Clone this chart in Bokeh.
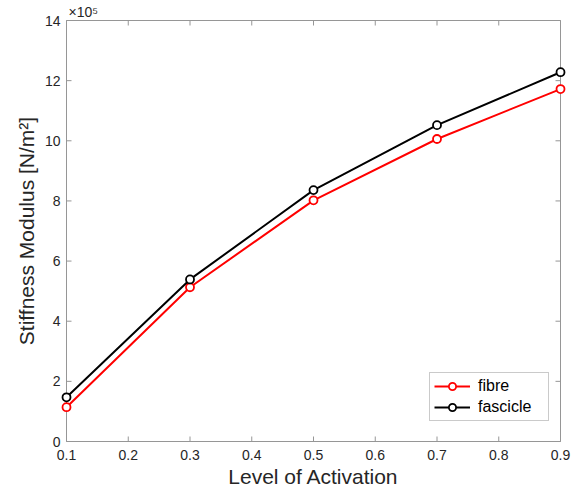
from bokeh.plotting import figure
from bokeh.models import Range1d, Legend, LegendItem, FixedTicker
from bokeh.embed import file_html
from bokeh.resources import INLINE

# data (stiffness modulus in units of 1e5 N/m^2)
activation = [0.1, 0.3, 0.5, 0.7, 0.9]
fibre = [1.14, 5.13, 8.02, 10.06, 11.72]
fascicle = [1.47, 5.39, 8.36, 10.52, 12.28]
x_ticks = [0.1, 0.2, 0.3, 0.4, 0.5, 0.6, 0.7, 0.8, 0.9]
y_ticks = [0, 2, 4, 6, 8, 10, 12, 14]
x_min, x_max = 0.1, 0.9
y_min, y_max = 0, 14

FONT = "Liberation Sans"
AXC = "#969696"
TXC = "#262626"

# layout (pixels): axes box 494 x 421, frame padded so edge markers are not clipped
BOX_W, BOX_H = 494, 421
PAD_X, PAD_Y = 6, 1
TICK = 5
dx = PAD_X * (x_max - x_min) / BOX_W
dy = PAD_Y * (y_max - y_min) / BOX_H
tdx = TICK * (x_max - x_min) / BOX_W
tdy = TICK * (y_max - y_min) / BOX_H

p = figure(width=575, height=497, output_backend="svg", toolbar_location=None,
           x_range=Range1d(x_min - dx, x_max + dx), y_range=Range1d(y_min - dy, y_max + dy),
           min_border_left=60, min_border_right=9, min_border_top=19, min_border_bottom=55)
p.grid.visible = False
p.outline_line_color = None
p.background_fill_color = "white"
p.border_fill_color = "white"

for ax, ticks in ((p.xaxis[0], x_ticks), (p.yaxis[0], y_ticks)):
    ax.ticker = FixedTicker(ticks=ticks)
    ax.axis_line_color = None
    ax.major_tick_line_color = None
    ax.minor_tick_line_color = None
    ax.major_tick_in = 0
    ax.major_tick_out = 0
    ax.major_label_text_font = FONT
    ax.major_label_text_color = TXC
    ax.major_label_text_font_size = "14px"
    ax.axis_label_text_font = FONT
    ax.axis_label_text_color = TXC
    ax.axis_label_text_font_size = "21px"
    ax.axis_label_text_font_style = "normal"

p.xaxis[0].axis_label = "Level of Activation"
p.yaxis[0].axis_label = "Stiffness Modulus [N/m²]"
p.xaxis[0].major_label_standoff = 7
p.xaxis[0].axis_label_standoff = 2
p.yaxis[0].major_label_standoff = 0
p.yaxis[0].axis_label_standoff = 4

# exponent marker
p.title.text = "×10⁵"
p.title.align = "left"
p.title.offset = 8
p.title.standoff = 0
p.title.text_font = FONT
p.title.text_font_size = "14px"
p.title.text_font_style = "normal"
p.title.text_color = TXC

# axes box and inward ticks
p.quad(left=[x_min], right=[x_max], bottom=[y_min], top=[y_max],
       fill_color=None, line_color=AXC, line_width=1)
nx, ny = len(x_ticks), len(y_ticks)
p.segment(x0=x_ticks, y0=[y_min] * nx, x1=x_ticks, y1=[y_min + tdy] * nx, line_color=AXC)
p.segment(x0=x_ticks, y0=[y_max] * nx, x1=x_ticks, y1=[y_max - tdy] * nx, line_color=AXC)
p.segment(x0=[x_min] * ny, y0=y_ticks, x1=[x_min + tdx] * ny, y1=y_ticks, line_color=AXC)
p.segment(x0=[x_max] * ny, y0=y_ticks, x1=[x_max - tdx] * ny, y1=y_ticks, line_color=AXC)

l1 = p.line(activation, fibre, line_color="#ff0000", line_width=2)
m1 = p.scatter(activation, fibre, size=8, marker="circle", line_color="#ff0000",
               fill_color="white", line_width=1.8)
l2 = p.line(activation, fascicle, line_color="#000000", line_width=2)
m2 = p.scatter(activation, fascicle, size=8, marker="circle", line_color="#000000",
               fill_color="white", line_width=1.8)

legend = Legend(items=[LegendItem(label="fibre", renderers=[l1, m1]),
                       LegendItem(label="fascicle", renderers=[l2, m2])],
                location=(369, 21), orientation="vertical")
legend.label_text_font = FONT
legend.label_text_font_size = "16px"
legend.label_text_color = "#000000"
legend.border_line_color = AXC
legend.border_line_width = 1
legend.background_fill_alpha = 1
legend.glyph_width = 36
legend.glyph_height = 18
legend.label_height = 18
legend.label_width = 66
legend.label_standoff = 8
legend.spacing = 3
legend.padding = 4
legend.margin = 0
p.add_layout(legend, "center")

open("out.html", "w").write(file_html(p, INLINE))
